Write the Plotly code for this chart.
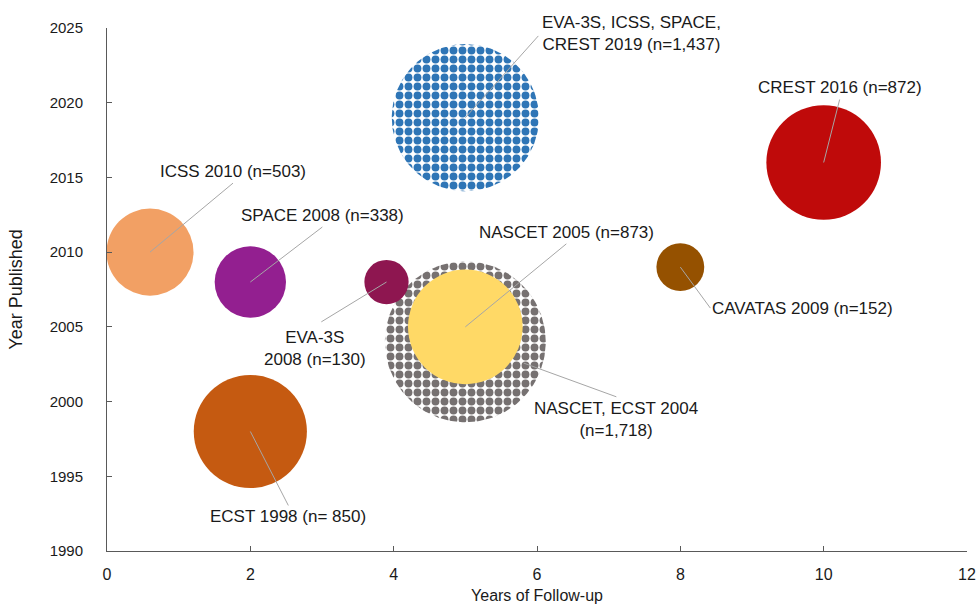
import numpy as np
import plotly.graph_objects as go

# ---------------- data ----------------
studies = ["ICSS 2010 (n=503)", "SPACE 2008 (n=338)", "EVA-3S<br>2008 (n=130)",
           "NASCET 2005 (n=873)", "CREST 2016 (n=872)", "CAVATAS 2009 (n=152)",
           "ECST 1998 (n= 850)"]
follow_up = [0.6, 2.0, 3.9, 5.0, 10.0, 8.0, 2.0]
year_pub = [2010, 2008, 2008, 2005, 2016, 2009, 1998]
n_pts = [503, 338, 130, 873, 872, 152, 850]

pooled_labels = ["EVA-3S, ICSS, SPACE,<br>CREST 2019 (n=1,437)",
                 "NASCET, ECST 2004<br>(n=1,718)"]
pooled_follow_up = [5.0, 5.0]
pooled_year = [2019, 2004]
pooled_n = [1437, 1718]

x_ticks = [0, 2, 4, 6, 8, 10, 12]
y_ticks = [1990, 1995, 2000, 2005, 2010, 2015, 2020, 2025]

# ---------------- style ----------------
colors = ["#F2A064", "#931F90", "#8E1650", "#FFD966", "#BF0A0A", "#955100", "#C55A11"]
pooled_colors = ["#2E75B6", "#767171"]

W, H = 979, 604
ML, MR, MT, MB = 107, 12, 28, 53
PW, PH = W - ML - MR, H - MT - MB
XR = [0, 12]
YR = [1990, 2025]
SIZEREF = 0.0664
FONT = "Liberation Sans, Arial, sans-serif"

fig = go.Figure()

# patterned pooled bubbles (drawn as filled circles with pattern)
t = np.linspace(0, 2 * np.pi, 181)
for lab, cx, cy, nn, col in zip(pooled_labels, pooled_follow_up, pooled_year, pooled_n, pooled_colors):
    r_px = 0.5 * np.sqrt(nn / SIZEREF)
    rx = r_px * (XR[1] - XR[0]) / PW
    ry = r_px * (YR[1] - YR[0]) / PH
    fig.add_trace(go.Scatter(
        x=cx + rx * np.cos(t), y=cy + ry * np.sin(t),
        mode="lines", fill="toself", line=dict(width=0, color=col),
        fillcolor="white",
        fillpattern=dict(shape=".", fgcolor=col, bgcolor="white", fgopacity=1,
                         size=9, solidity=0.6, fillmode="replace"),
        hoverinfo="skip", showlegend=False))

# solid bubbles (plotly area-mode markers render sqrt(2) larger, so double sizeref)
fig.add_trace(go.Scatter(
    x=follow_up, y=year_pub, mode="markers",
    marker=dict(size=n_pts, sizemode="area", sizeref=2 * SIZEREF, color=colors,
                opacity=1, line=dict(width=0)),
    text=studies, hoverinfo="text", showlegend=False))

# labels with leader lines
ann_cfg = {
    # label: (ax, ay, xanchor, yanchor, standoff, startstandoff)
    0: (83, -69, "center", "bottom", 0, 0),
    1: (72, -55, "center", "bottom", 0, 0),
    2: (-72, 44, "center", "top", 0, 8),
    3: (101, -83, "center", "bottom", 0, 0),
    4: (16, -63, "center", "bottom", 0, 0),
    5: (30, 41, "left", "middle", 0, 0),
    6: (38, 74, "center", "top", 0, 0),
}
annotations = []
for i, (ax, ay, xa, ya, so, sso) in ann_cfg.items():
    annotations.append(dict(x=follow_up[i], y=year_pub[i], ax=ax, ay=ay, xanchor=xa, yanchor=ya,
                            text=studies[i], showarrow=True, arrowhead=0,
                            arrowwidth=1, arrowcolor="#A6A6A6",
                            standoff=so, startstandoff=sso,
                            font=dict(family=FONT, size=17, color="#1a1a1a")))
pooled_cfg = [
    (75, -84, "left", "middle", 0, 3),
    (151, 55, "center", "top", 62, 0),
]
for lab, cx, cy, (ax, ay, xa, ya, so, sso) in zip(pooled_labels, pooled_follow_up, pooled_year, pooled_cfg):
    annotations.append(dict(x=cx, y=cy, ax=ax, ay=ay, xanchor=xa, yanchor=ya,
                            text=lab, showarrow=True, arrowhead=0,
                            arrowwidth=1, arrowcolor="#A6A6A6",
                            standoff=so, startstandoff=sso,
                            font=dict(family=FONT, size=17, color="#1a1a1a")))

fig.update_layout(
    width=W, height=H,
    margin=dict(l=ML, r=MR, t=MT, b=MB, pad=0),
    paper_bgcolor="white", plot_bgcolor="white",
    font=dict(family=FONT, color="#1a1a1a"),
    annotations=annotations,
    xaxis=dict(range=XR, tickvals=x_ticks, showgrid=False, zeroline=False,
               automargin=False,
               showline=True, linecolor="#595959", linewidth=1,
               ticks="inside", ticklen=5, tickcolor="#595959",
               ticklabelstandoff=9,
               tickfont=dict(size=16, color="#1a1a1a"),
               title=dict(text="Years of Follow-up", standoff=12,
                          font=dict(size=16, color="#1a1a1a"))),
    yaxis=dict(range=YR, tickvals=y_ticks, showgrid=False, zeroline=False,
               automargin=False,
               showline=True, linecolor="#595959", linewidth=1,
               ticks="inside", ticklen=5, tickcolor="#595959",
               ticklabelstandoff=20,
               tickfont=dict(size=15, color="#1a1a1a"),
               title=dict(text="Year Published", standoff=22,
                          font=dict(size=18, color="#1a1a1a"))),
)

fig.write_html("out.html", post_script="document.body.style.margin='0';",
               config={"displayModeBar": False})
